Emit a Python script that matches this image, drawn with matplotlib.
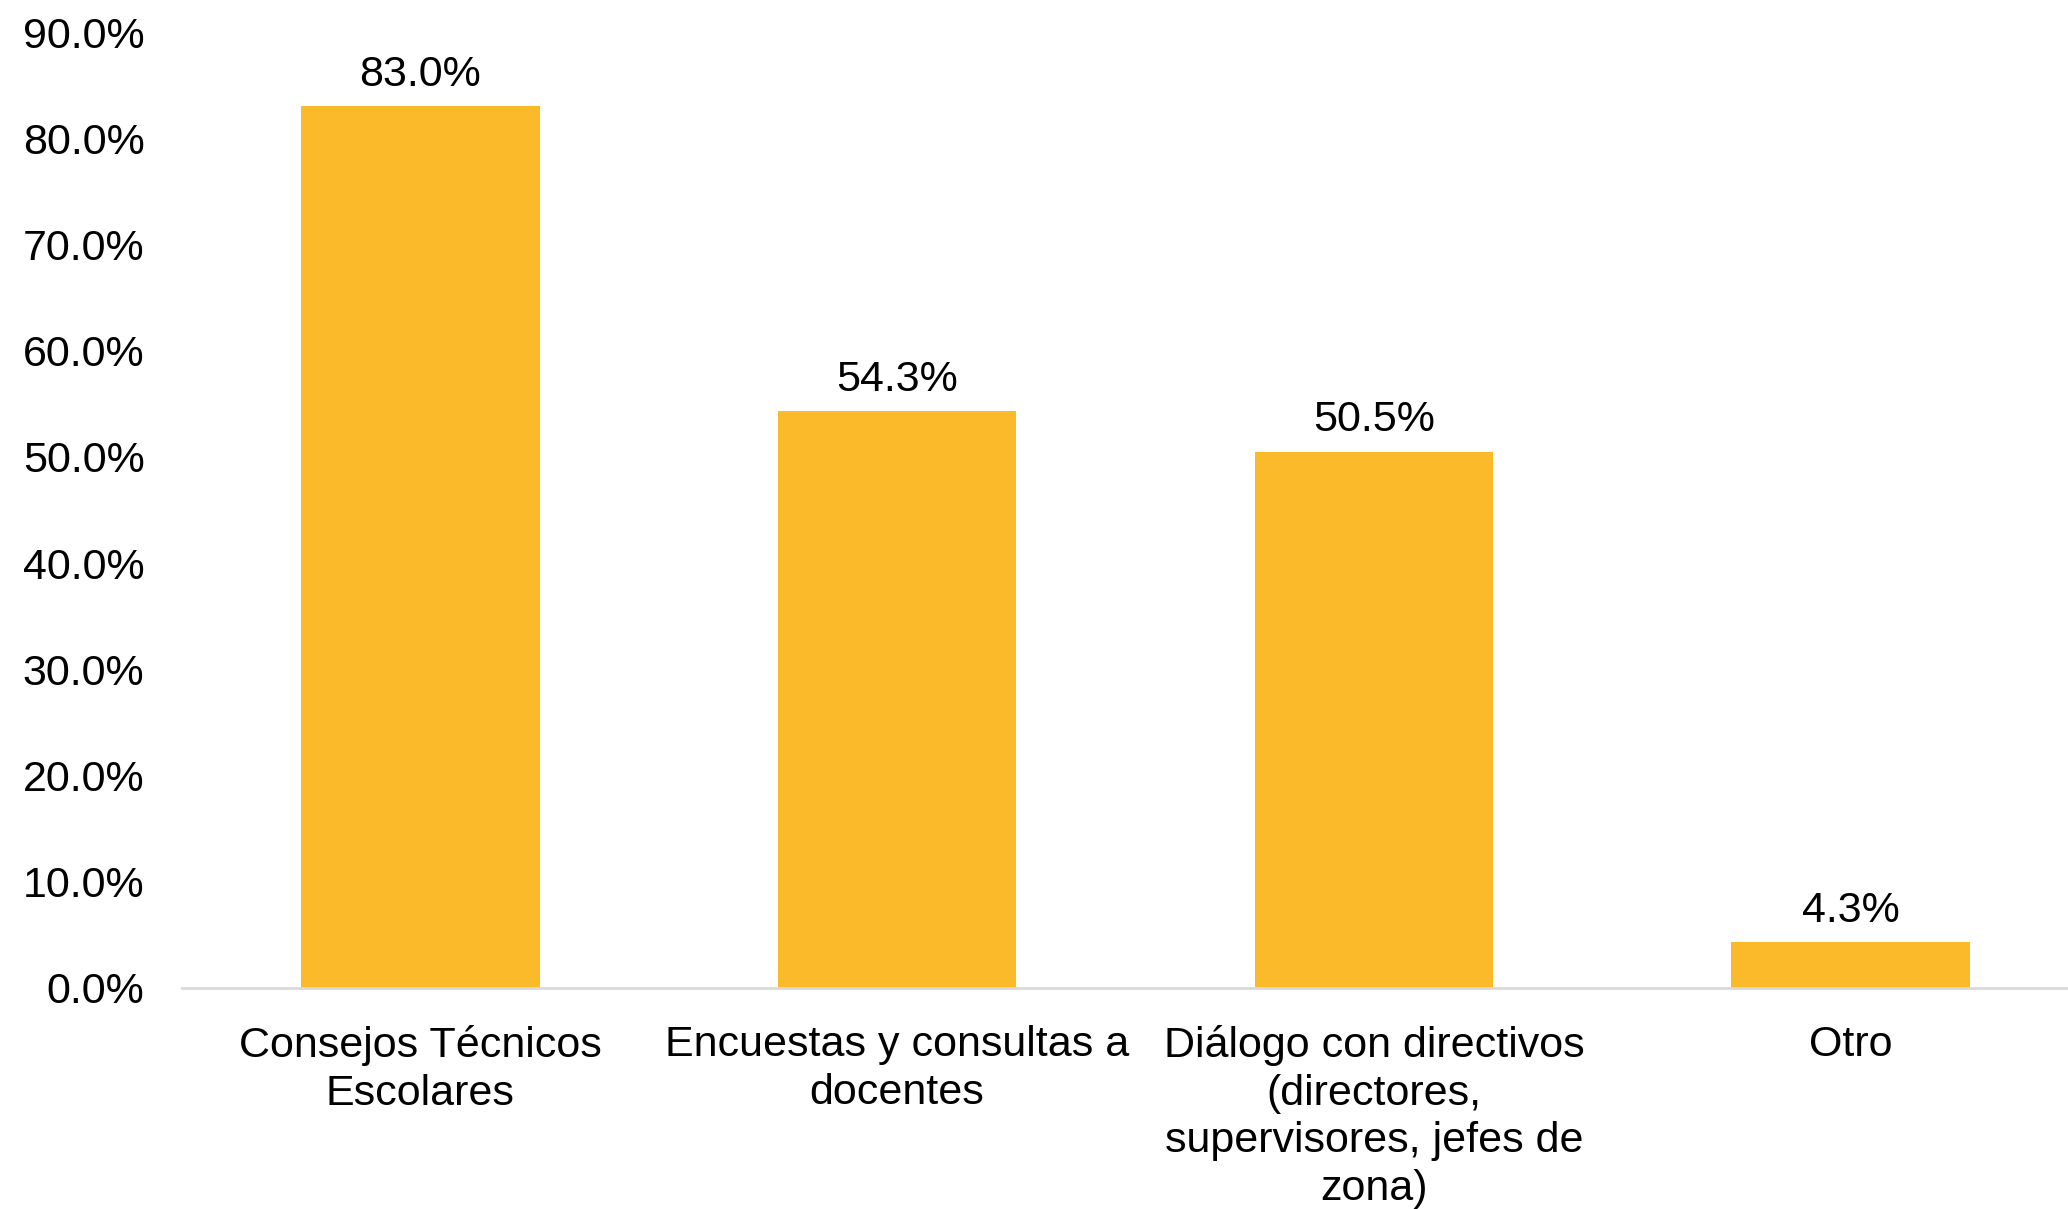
import matplotlib
matplotlib.use("Agg")
import matplotlib.pyplot as plt
from matplotlib.ticker import FuncFormatter

categories = ["Consejos Técnicos\nEscolares",
              "Encuestas y consultas a\ndocentes",
              "Diálogo con directivos\n(directores,\nsupervisores, jefes de\nzona)",
              "Otro"]
values = [83.0, 54.3, 50.5, 4.3]
yticks = [0, 10, 20, 30, 40, 50, 60, 70, 80, 90]

plt.rcParams['font.family'] = ['Liberation Sans', 'DejaVu Sans']

fig = plt.figure(figsize=(20.68, 12.09), dpi=100)
ax = fig.add_axes([0.088, 0.1828, 0.912, 0.7907])

x = list(range(len(categories)))
bars = ax.bar(x, values, width=0.5, color="#FABA29", zorder=2)
for xi, v in zip(x, values):
    ax.annotate(f"{v:.1f}%", (xi, v), xytext=(0, 8), textcoords="offset points",
                ha="center", va="bottom", fontsize=31, color="black")

ax.set_xlim(-0.5, 3.456)
ax.set_ylim(0, 90)
ax.set_yticks(yticks)
ax.yaxis.set_major_formatter(FuncFormatter(lambda v, p: f"{v:.1f}%"))
ax.set_xticks(x)
ax.set_xticklabels(categories, fontsize=31, linespacing=1.24)
ax.tick_params(axis='y', length=0, pad=27, labelsize=31)
ax.tick_params(axis='x', length=0, pad=27)
for s in ["top", "right", "left"]:
    ax.spines[s].set_visible(False)
ax.spines["bottom"].set_color("#D9D9D9")
ax.spines["bottom"].set_linewidth(2)

fig.savefig("out.png", dpi=100)
